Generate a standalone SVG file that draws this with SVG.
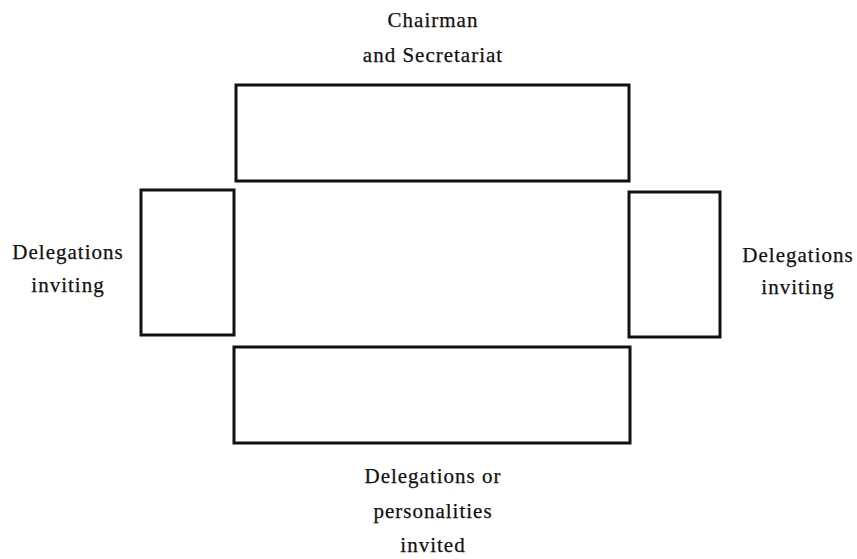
<svg xmlns="http://www.w3.org/2000/svg" width="857" height="559" viewBox="0 0 857 559">
  <style>
    .table { fill: #fff; stroke: #111; stroke-width: 3; }
    .label { font-family: "Liberation Serif", "DejaVu Serif", serif; font-size: 21px; letter-spacing: 1px; fill: #111; stroke: #111; stroke-width: 0.25; text-anchor: middle; }
  </style>
  <rect width="857" height="559" fill="#fff"/>

  <!-- Head table -->
  <g id="chairman">
    <rect class="table" x="236" y="85" width="393" height="96"/>
    <text class="label" x="433" y="27">Chairman</text>
    <text class="label" x="433" y="62">and Secretariat</text>
  </g>

  <!-- Side table, left -->
  <g id="delegations-inviting-left">
    <rect class="table" x="141" y="190" width="93" height="145"/>
    <text class="label" x="68" y="259">Delegations</text>
    <text class="label" x="68" y="292">inviting</text>
  </g>

  <!-- Side table, right -->
  <g id="delegations-inviting-right">
    <rect class="table" x="629" y="192" width="91" height="145"/>
    <text class="label" x="798" y="262">Delegations</text>
    <text class="label" x="798" y="294">inviting</text>
  </g>

  <!-- Foot table -->
  <g id="delegations-invited">
    <rect class="table" x="234" y="347" width="396" height="96"/>
    <text class="label" x="433" y="483">Delegations or</text>
    <text class="label" x="433" y="518">personalities</text>
    <text class="label" x="433" y="552">invited</text>
  </g>

  <g id="connectors"/>
</svg>
